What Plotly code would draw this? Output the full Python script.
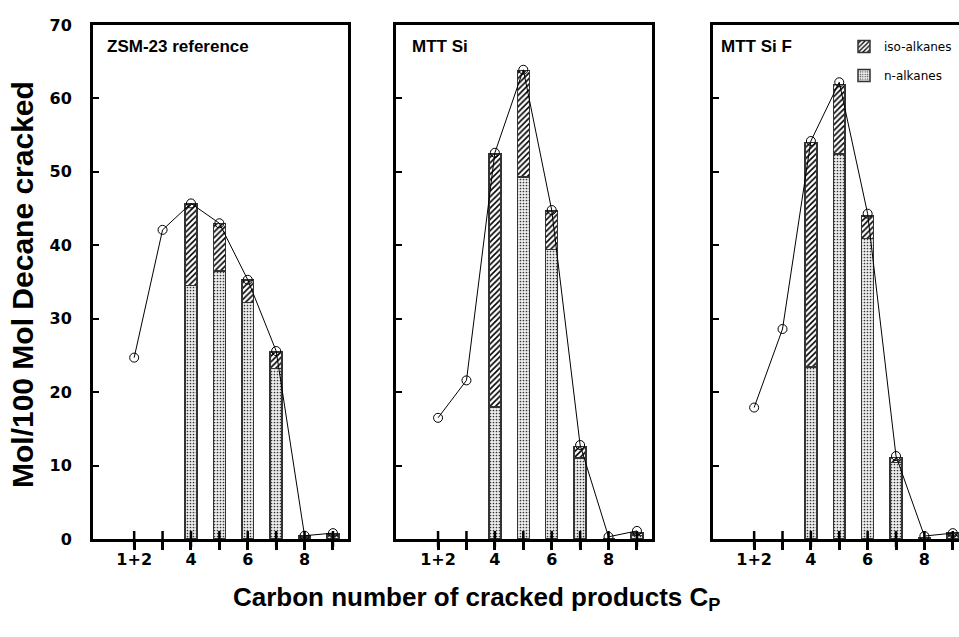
import plotly.graph_objects as go

# ---------------- data ----------------
carbon_positions = [2, 3, 4, 5, 6, 7, 8, 9]
tick_text = ["1+2", "", "4", "", "6", "", "8", ""]
bar_positions = [4, 5, 6, 7, 8, 9]

panel_titles = ["ZSM-23 reference", "MTT Si", "MTT Si F"]

zsm_total = [24.7, 42.1, 45.7, 43.0, 35.3, 25.6, 0.45, 0.8]
zsm_n = [34.5, 36.5, 32.2, 23.2, 0.3, 0.5]
zsm_iso = [11.1, 6.5, 3.1, 2.3, 0.1, 0.2]

mttsi_total = [16.5, 21.6, 52.6, 63.9, 44.8, 12.8, 0.3, 1.1]
mttsi_n = [18.0, 49.3, 39.4, 11.0, 0.0, 0.5]
mttsi_iso = [34.4, 14.5, 5.3, 1.6, 0.0, 0.35]

mttsif_total = [17.9, 28.6, 54.2, 62.2, 44.3, 11.3, 0.4, 0.8]
mttsif_n = [23.4, 52.4, 40.9, 10.4, 0.2, 0.5]
mttsif_iso = [30.6, 9.5, 3.1, 0.7, 0.0, 0.3]

y_ticks = [0, 10, 20, 30, 40, 50, 60, 70]

# ---------------- figure ----------------
W, H = 959, 637
y_dom = [1 - 539 / H, 1 - 25 / H]
x_doms = [[93 / W, 348 / W], [396 / W, 652 / W], [713 / W, 1.0]]
x_ranges = [[0.55, 9.53], [0.52, 9.53], [0.55, 9.22]]
tick_half = 8 / H  # crossing tick half-length (paper units)

panels = [
    (zsm_total, zsm_n, zsm_iso),
    (mttsi_total, mttsi_n, mttsi_iso),
    (mttsif_total, mttsif_n, mttsif_iso),
]

fig = go.Figure()
shapes = []
for i, (tot, nvals, isovals) in enumerate(panels):
    xa = "x" if i == 0 else f"x{i+1}"
    ya = "y" if i == 0 else f"y{i+1}"
    fig.add_trace(go.Bar(
        x=bar_positions, y=nvals, xaxis=xa, yaxis=ya, width=0.42,
        name="n-alkanes", legend="legend2", showlegend=(i == 2),
        marker=dict(color="white", line=dict(color="#333333", width=1.5),
                    pattern=dict(shape=".", fgcolor="#333333", bgcolor="#eeeeee",
                                 size=3, solidity=0.25, fillmode="replace")),
    ))
    fig.add_trace(go.Bar(
        x=bar_positions, y=isovals, xaxis=xa, yaxis=ya, width=0.42,
        name="iso-alkanes", legend="legend", showlegend=(i == 2),
        marker=dict(color="white", line=dict(color="#333333", width=1.5),
                    pattern=dict(shape="/", fgcolor="black", bgcolor="white",
                                 size=4, solidity=0.4, fillmode="replace")),
    ))
    fig.add_trace(go.Scatter(
        x=carbon_positions, y=tot, xaxis=xa, yaxis=ya, mode="lines+markers",
        line=dict(color="black", width=1),
        marker=dict(symbol="circle-open", size=9, color="black", line=dict(width=1)),
        showlegend=False, cliponaxis=False,
    ))
    # upper half of the crossing tick marks (drawn above the bars)
    for p in carbon_positions:
        shapes.append(dict(
            type="line", xref=xa, yref="paper", x0=p, x1=p,
            y0=y_dom[0] - tick_half, y1=y_dom[0] + tick_half,
            line=dict(color="black", width=2.5), layer="above",
        ))

tick_font = dict(family="DejaVu Sans", size=16, color="black", weight="bold")

layout = dict(
    width=W, height=H,
    margin=dict(l=0, r=0, t=0, b=0, autoexpand=False),
    paper_bgcolor="white", plot_bgcolor="white",
    barmode="stack",
    showlegend=True,
    shapes=shapes,
    legend=dict(x=844 / W, y=1 - 32 / H, xanchor="left", yanchor="top",
                font=dict(family="DejaVu Sans", size=12, color="black"),
                bgcolor="rgba(0,0,0,0)"),
    legend2=dict(x=844 / W, y=1 - 61 / H, xanchor="left", yanchor="top",
                 font=dict(family="DejaVu Sans", size=12, color="black"),
                 bgcolor="rgba(0,0,0,0)"),
)

for i in range(3):
    xk = "xaxis" if i == 0 else f"xaxis{i+1}"
    yk = "yaxis" if i == 0 else f"yaxis{i+1}"
    ya = "y" if i == 0 else f"y{i+1}"
    xa = "x" if i == 0 else f"x{i+1}"
    layout[xk] = dict(
        domain=x_doms[i], range=x_ranges[i], anchor=ya, automargin=False,
        tickvals=carbon_positions, ticktext=tick_text,
        ticks="outside", ticklen=8, tickwidth=2.5, tickcolor="black",
        tickfont=tick_font, ticklabelstandoff=-4,
        showline=True, linewidth=3, linecolor="black", mirror=True,
        showgrid=False, zeroline=False,
    )
    layout[yk] = dict(
        domain=y_dom, range=[0, 70], anchor=xa, automargin=False,
        tickvals=y_ticks, ticks="inside", ticklen=6, tickwidth=1.5, tickcolor="black",
        showticklabels=(i == 0), tickfont=tick_font, ticklabelstandoff=15,
        showline=True, linewidth=3, linecolor="black", mirror=(i < 2),
        showgrid=False, zeroline=False,
    )

fig.update_layout(**layout)

title_x = [105, 410, 719]
annotations = []
for t, xp in zip(panel_titles, title_x):
    annotations.append(dict(
        text=t, x=xp / W, y=1 - 46 / H, xref="paper", yref="paper",
        xanchor="left", yanchor="middle", showarrow=False,
        font=dict(family="Liberation Sans", size=17, color="black", weight="bold"),
    ))
annotations.append(dict(
    text="Mol/100 Mol Decane cracked", x=23 / W, y=1 - 285 / H,
    xref="paper", yref="paper", xanchor="center", yanchor="middle",
    textangle=-90, showarrow=False,
    font=dict(family="Liberation Sans", size=30, color="black", weight="bold"),
))
annotations.append(dict(
    text="Carbon number of cracked products C<sub>P</sub>", x=476 / W, y=1 - 598 / H,
    xref="paper", yref="paper", xanchor="center", yanchor="middle",
    showarrow=False,
    font=dict(family="Liberation Sans", size=26, color="black", weight="bold"),
))
fig.update_layout(annotations=annotations)

fig.write_html("out.html")
